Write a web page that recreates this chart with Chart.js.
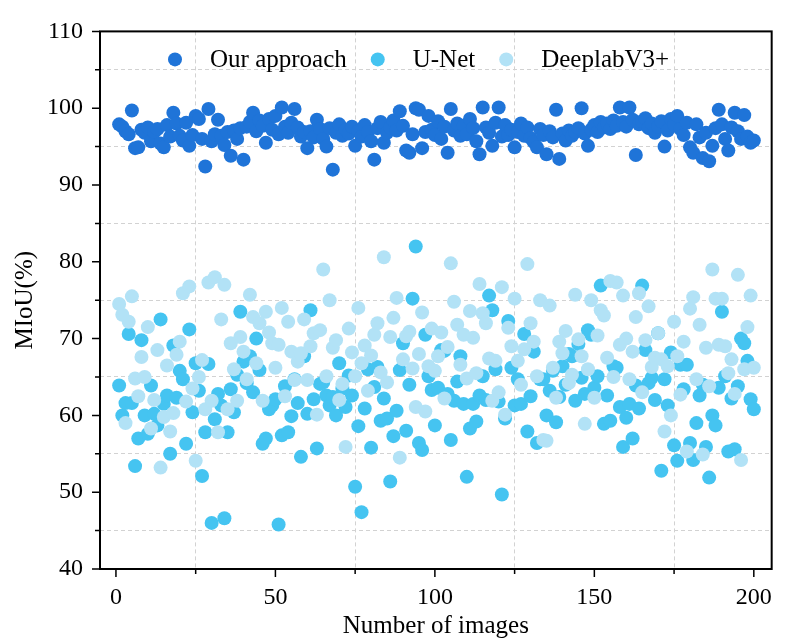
<!DOCTYPE html>
<html>
<head>
<meta charset="utf-8">
<script src="https://cdn.jsdelivr.net/npm/chart.js@4.4.0/dist/chart.umd.min.js"></script>
<style>
  body { margin: 0; background: #fff; }
  #chart { display: block; }
</style>
</head>
<body>
<canvas id="chart" width="786" height="639"></canvas>
<script>
// MIoU (%) per test image (image 1..200)
var ourApproach = [
  97.9, 97.6, 97.0, 96.6, 99.7, 94.8, 94.9, 97.2, 96.8, 97.5,
  95.7, 96.9, 97.3, 95.4, 94.9, 97.8, 96.3, 99.4, 98.0, 96.4,
  95.8, 98.1, 95.1, 96.5, 99.0, 98.6, 96.0, 92.4, 99.9, 95.7,
  96.6, 98.5, 96.4, 95.2, 96.9, 93.8, 97.1, 96.0, 97.4, 93.3,
  97.6, 98.2, 99.4, 97.0, 98.4, 97.7, 95.5, 98.6, 97.2, 99.0,
  96.6, 100.1, 97.6, 96.8, 98.1, 99.9, 97.5, 96.3, 96.9, 94.8,
  97.0, 96.2, 98.5, 97.3, 96.0, 95.0, 97.4, 92.0, 96.8, 97.9,
  96.4, 97.2, 96.7, 97.6, 95.1, 97.0, 96.3, 97.8, 96.9, 95.7,
  93.3, 97.4, 98.2, 95.5, 96.8, 97.5, 98.4, 97.1, 99.6, 97.7,
  94.5, 94.2, 96.6, 100.0, 99.8, 94.8, 96.9, 99.0, 97.2, 96.5,
  98.3, 96.0, 97.6, 94.2, 99.9, 97.1, 98.0, 96.4, 97.7, 96.6,
  98.6, 97.4, 95.7, 94.0, 100.1, 97.5, 96.8, 95.1, 98.1, 100.1,
  96.3, 97.8, 96.5, 97.2, 94.9, 96.9, 98.0, 96.4, 97.5, 96.1,
  95.6, 94.9, 97.3, 96.5, 94.0, 97.0, 96.2, 99.8, 93.4, 96.7,
  95.8, 97.1, 96.4, 96.9, 97.4, 100.0, 96.7, 95.1, 97.2, 97.8,
  96.9, 98.2, 97.5, 98.0, 97.3, 98.4, 97.7, 100.1, 98.2, 97.6,
  100.1, 98.5, 93.9, 97.9, 98.3, 98.7, 97.4, 98.0, 96.8, 97.6,
  98.3, 95.0, 97.1, 98.6, 97.9, 99.0, 97.3, 96.5, 98.1, 94.9,
  94.2, 97.9, 96.2, 93.5, 96.8, 93.1, 95.1, 97.4, 99.8, 97.9,
  96.0, 94.5, 97.5, 99.4, 97.0, 96.0, 99.1, 96.3, 95.5, 95.8
];

var uNet = [
  63.9, 60.0, 61.6, 70.6, 61.6, 53.4, 57.0, 69.8, 60.0, 57.6,
  63.9, 60.2, 58.7, 72.5, 61.5, 62.6, 55.0, 69.1, 62.3, 65.8,
  64.7, 56.3, 71.2, 60.4, 66.8, 63.2, 52.1, 57.8, 66.7, 46.0,
  59.5, 62.8, 61.3, 46.6, 57.8, 63.4, 60.4, 65.3, 73.5, 67.0,
  64.2, 67.7, 63.0, 70.0, 65.9, 56.3, 57.0, 60.8, 61.3, 62.1,
  45.8, 57.4, 63.8, 57.8, 59.9, 64.7, 61.6, 54.6, 67.7, 60.2,
  73.7, 62.1, 55.7, 64.1, 64.3, 62.6, 61.3, 62.4, 60.0, 66.8,
  63.5, 61.1, 65.2, 62.6, 50.7, 58.6, 47.4, 60.9, 66.0, 55.8,
  63.7, 66.3, 59.3, 62.2, 59.6, 51.4, 57.3, 60.6, 65.9, 69.4,
  58.0, 64.0, 75.2, 82.0, 56.4, 55.5, 70.5, 65.1, 63.3, 58.7,
  63.6, 68.5, 68.4, 62.8, 56.8, 61.9, 64.4, 67.7, 61.5, 52.0,
  58.3, 61.5, 59.2, 62.6, 65.1, 62.0, 75.6, 73.7, 66.0, 61.8,
  49.7, 59.6, 72.3, 66.2, 61.3, 64.7, 61.5, 70.6, 57.9, 62.5,
  68.3, 56.4, 64.7, 64.7, 60.0, 63.2, 65.8, 59.1, 62.4, 66.4,
  64.0, 68.0, 67.7, 61.9, 69.3, 64.9, 62.8, 71.1, 70.5, 63.6,
  65.1, 76.9, 58.9, 62.6, 59.3, 66.4, 66.2, 61.1, 55.9, 59.7,
  61.5, 57.0, 63.9, 60.9, 76.9, 68.5, 64.2, 64.9, 62.0, 70.7,
  52.8, 64.7, 61.3, 68.2, 56.1, 54.1, 66.6, 63.4, 66.6, 56.4,
  54.2, 59.0, 62.6, 64.0, 55.9, 51.9, 60.0, 58.7, 63.6, 73.5,
  65.1, 55.3, 62.2, 55.6, 63.8, 70.0, 69.4, 67.1, 62.1, 60.8
];

var deeplabV3 = [
  74.5, 73.1, 59.0, 72.2, 75.5, 64.8, 62.5, 67.6, 65.0, 71.5,
  58.3, 62.0, 68.5, 53.2, 59.8, 66.5, 57.9, 60.3, 67.9, 69.6,
  75.9, 61.8, 76.8, 63.5, 54.1, 65.0, 67.2, 60.8, 77.3, 61.9,
  78.0, 57.8, 72.5, 77.0, 60.8, 69.4, 66.0, 61.9, 70.2, 68.3,
  64.7, 75.7, 72.8, 66.8, 72.0, 61.9, 73.5, 70.8, 69.4, 66.2,
  69.2, 74.0, 62.5, 72.2, 68.3, 64.6, 67.0, 68.1, 72.5, 64.6,
  69.0, 70.7, 60.1, 71.1, 79.0, 65.1, 75.0, 68.8, 69.8, 62.0,
  64.1, 55.9, 71.3, 68.2, 65.1, 74.0, 66.8, 69.1, 63.2, 67.8,
  70.5, 72.0, 65.6, 80.6, 64.3, 70.2, 72.7, 75.3, 54.5, 67.3,
  70.3, 70.9, 66.1, 61.1, 68.0, 73.4, 60.5, 66.4, 71.3, 65.8,
  67.7, 70.8, 62.2, 68.9, 79.8, 74.8, 71.8, 66.6, 70.5, 64.8,
  73.6, 70.1, 65.5, 77.1, 73.3, 72.0, 67.4, 61.9, 67.1, 63.0,
  76.7, 60.1, 71.4, 69.0, 75.2, 67.1, 64.0, 68.6, 79.7, 72.0,
  69.6, 65.1, 75.0, 56.8, 56.7, 74.3, 66.2, 62.3, 69.6, 68.1,
  71.0, 64.2, 65.3, 75.7, 69.9, 67.7, 58.9, 66.0, 75.0, 62.3,
  70.4, 73.7, 73.0, 67.5, 77.5, 65.0, 77.3, 69.2, 75.6, 70.0,
  64.7, 68.3, 72.8, 75.9, 63.0, 69.8, 74.2, 66.3, 67.5, 70.7,
  67.3, 57.9, 66.4, 60.0, 72.2, 67.7, 62.7, 69.6, 55.3, 73.9,
  75.4, 64.7, 71.8, 54.9, 68.8, 63.8, 79.0, 75.2, 69.2, 75.2,
  69.0, 65.5, 67.3, 62.8, 78.3, 54.2, 66.0, 71.5, 75.6, 66.2
];

var seriesNames = ['Our approach', 'U-Net', 'DeeplabV3+'];
var seriesColors = ['#1f74d8', '#45c4f1', '#b2e2f6'];

var xTicks = [0, 25, 50, 75, 100, 125, 150, 175, 200];
var yTicks = [40, 45, 50, 55, 60, 65, 70, 75, 80, 85, 90, 95, 100, 105, 110];

function toPoints(values) {
  return values.map(function(v, i) {
    return { x: i + 1, y: v };
  });
}

// minor positions only get the dashed grid
function isMajorX(v) { return v % 50 === 0; }
function isMajorY(v) { return v % 10 === 0; }

// legend sits inside the plot, on one row
var insideLegend = {
  id: 'insideLegend',
  afterDatasetsDraw: function(chart) {
    var ctx = chart.ctx;
    var area = chart.chartArea;
    var x = area.left + 75;
    var y = area.top + 28;
    ctx.save();
    ctx.font = '25px "Liberation Serif"';
    ctx.textBaseline = 'middle';
    chart.data.datasets.forEach(function(ds) {
      ctx.fillStyle = ds.backgroundColor;
      ctx.beginPath();
      ctx.arc(x, y, 7, 0, Math.PI * 2);
      ctx.fill();
      ctx.fillStyle = '#000';
      ctx.fillText(ds.label, x + 35, y + 1);
      x += 35 + ctx.measureText(ds.label).width + 31;
    });
    ctx.restore();
  }
};

// black frame plus outward major/minor tick marks
var frameTicks = {
  id: 'frameTicks',
  afterDraw: function(chart) {
    var ctx = chart.ctx;
    var area = chart.chartArea;
    var xs = chart.scales.x;
    var ys = chart.scales.y;
    ctx.save();
    ctx.strokeStyle = '#000';
    ctx.lineWidth = 2;
    ctx.strokeRect(area.left, area.top, area.right - area.left, area.bottom - area.top);
    ctx.lineWidth = 1.5;
    ctx.beginPath();
    xTicks.forEach(function(v) {
      var px = xs.getPixelForValue(v);
      var len = isMajorX(v) ? 8 : 5;
      ctx.moveTo(px, area.bottom);
      ctx.lineTo(px, area.bottom + len);
    });
    yTicks.forEach(function(v) {
      var py = ys.getPixelForValue(v);
      var len = isMajorY(v) ? 8 : 5;
      ctx.moveTo(area.left, py);
      ctx.lineTo(area.left - len, py);
    });
    ctx.stroke();
    ctx.restore();
  }
};

Chart.defaults.font.family = '"Liberation Serif", "Times New Roman", serif';
Chart.defaults.color = '#000';

new Chart(document.getElementById('chart'), {
  type: 'scatter',
  data: {
    datasets: [
      {
        label: seriesNames[0],
        data: toPoints(ourApproach),
        backgroundColor: seriesColors[0],
        order: 2
      }, {
        label: seriesNames[1],
        data: toPoints(uNet),
        backgroundColor: seriesColors[1],
        order: 1
      }, {
        label: seriesNames[2],
        data: toPoints(deeplabV3),
        backgroundColor: seriesColors[2],
        order: 0
      }
    ]
  },
  options: {
    responsive: false,
    animation: false,
    devicePixelRatio: 1,
    events: [],
    layout: { padding: { top: 25, right: 7, left: 0, bottom: 0 } },
    elements: {
      point: { radius: 7, borderWidth: 0, hoverRadius: 7 }
    },
    plugins: {
      legend: { display: false },
      tooltip: { enabled: false }
    },
    scales: {
      x: {
        type: 'linear',
        min: -5,
        max: 205.6,
        afterBuildTicks: function(scale) {
          scale.ticks = xTicks.map(function(v) { return { value: v }; });
        },
        afterFit: function(scale) { scale.height = 70; },
        border: { display: false, dash: [4, 3] },
        grid: {
          drawTicks: false,
          lineWidth: 1,
          color: function(c) {
            return c.tick && !isMajorX(c.tick.value) ? '#d2d2d2' : 'rgba(0,0,0,0)';
          }
        },
        ticks: {
          autoSkip: false,
          maxRotation: 0,
          padding: 14,
          font: { size: 24 },
          callback: function(v) { return isMajorX(v) ? v : ''; }
        },
        title: {
          display: true,
          text: 'Number of images',
          font: { size: 25, lineHeight: 1.0 },
          padding: { top: 0, bottom: 0 }
        }
      },
      y: {
        min: 40,
        max: 110,
        afterBuildTicks: function(scale) {
          scale.ticks = yTicks.map(function(v) { return { value: v }; });
        },
        afterFit: function(scale) { scale.width = 100; },
        border: { display: false, dash: [4, 3] },
        grid: {
          drawTicks: false,
          lineWidth: 1,
          color: function(c) {
            return c.tick && !isMajorY(c.tick.value) ? '#d2d2d2' : 'rgba(0,0,0,0)';
          }
        },
        ticks: {
          autoSkip: false,
          padding: 17,
          font: { size: 24 },
          callback: function(v) { return isMajorY(v) ? v : ''; }
        },
        title: {
          display: true,
          text: 'MIoU(%)',
          font: { size: 25, lineHeight: 1.2 },
          padding: { top: 10, bottom: 0 }
        }
      }
    }
  },
  plugins: [insideLegend, frameTicks]
});
</script>
</body>
</html>
